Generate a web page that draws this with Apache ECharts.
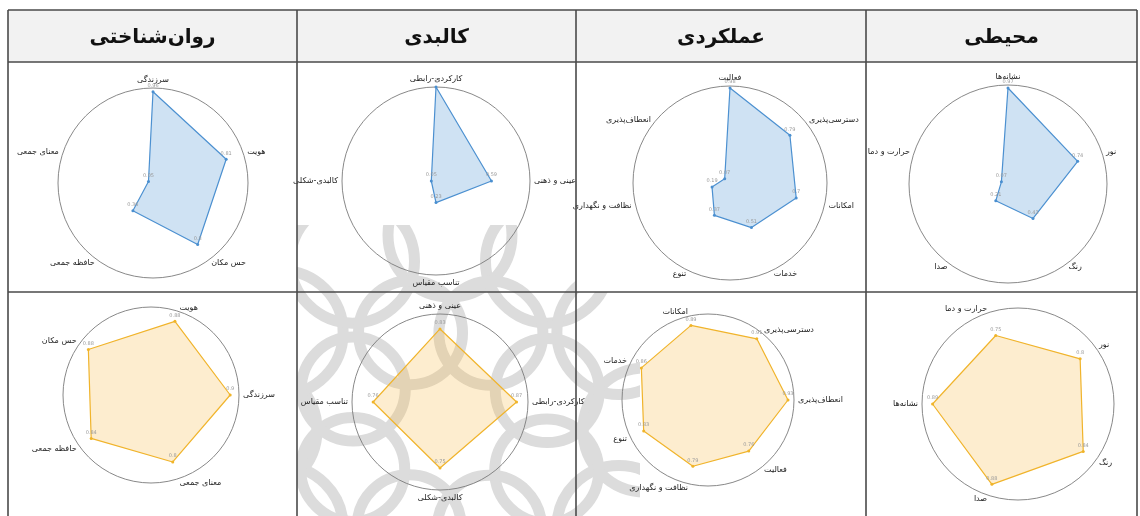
<!DOCTYPE html>
<html><head><meta charset="utf-8">
<script src="https://cdn.jsdelivr.net/npm/echarts@6/dist/echarts.min.js"></script>
<style>html,body{margin:0;padding:0;background:#fff}#c{width:1140px;height:516px}</style>
</head><body><div id="c"></div>
<script>
// Column headers (right-to-left table shown left-to-right as in the picture)
const headers = ['روان‌شناختی', 'کالبدی', 'عملکردی', 'محیطی'];

// Indicators are listed counter-clockwise, starting from the chart's start angle.
// Top row (blue)
const psyTopNames = ['سرزندگی', 'معنای جمعی', 'حافظه جمعی', 'حس مکان', 'هویت'];
const psyTopValues = [0.96, 0.05, 0.36, 0.80, 0.81];
const phyTopNames = ['کارکردی-رابطی', 'کالبدی-شکلی', 'تناسب مقیاس', 'عینی و ذهنی'];
const phyTopValues = [1.00, 0.05, 0.23, 0.59];
const funTopNames = ['فعالیت', 'انعطاف‌پذیری', 'نظافت و نگهداری', 'تنوع', 'خدمات', 'امکانات', 'دسترسی‌پذیری'];
const funTopValues = [0.98, 0.07, 0.19, 0.37, 0.51, 0.70, 0.79];
const envTopNames = ['نشانه‌ها', 'حرارت و دما', 'صدا', 'رنگ', 'نور'];
const envTopValues = [0.97, 0.07, 0.21, 0.43, 0.74];

// Bottom row (orange)
const psyBotNames = ['سرزندگی', 'هویت', 'حس مکان', 'حافظه جمعی', 'معنای جمعی'];
const psyBotValues = [0.90, 0.88, 0.88, 0.84, 0.80];
const phyBotNames = ['کارکردی-رابطی', 'عینی و ذهنی', 'تناسب مقیاس', 'کالبدی-شکلی'];
const phyBotValues = [0.87, 0.83, 0.76, 0.75];
const funBotNames = ['انعطاف‌پذیری', 'دسترسی‌پذیری', 'امکانات', 'خدمات', 'تنوع', 'نظافت و نگهداری', 'فعالیت'];
const funBotValues = [0.93, 0.91, 0.89, 0.86, 0.83, 0.79, 0.76];
const envBotNames = ['نشانه‌ها', 'صدا', 'رنگ', 'نور', 'حرارت و دما'];
const envBotValues = [0.89, 0.88, 0.84, 0.80, 0.75];

const FONT = 'DejaVu Sans';
const BLUE = {line: '#4a8fd0', fill: 'rgba(91,155,213,0.42)'};
const ORANGE = {line: '#f0b429', fill: 'rgba(246,182,64,0.36)'};

const panels = [
  {names: psyTopNames, values: psyTopValues, center: [153, 183], r: 95, start: 90, c: BLUE},
  {names: phyTopNames, values: phyTopValues, center: [436, 181], r: 94, start: 90, c: BLUE},
  {names: funTopNames, values: funTopValues, center: [730, 183], r: 97, start: 90, c: BLUE},
  {names: envTopNames, values: envTopValues, center: [1008, 184], r: 99, start: 90, c: BLUE},
  {names: psyBotNames, values: psyBotValues, center: [151, 395], r: 88, start: 0, c: ORANGE},
  {names: phyBotNames, values: phyBotValues, center: [440, 402], r: 88, start: 0, c: ORANGE},
  {names: funBotNames, values: funBotValues, center: [708, 400], r: 86, start: 0, c: ORANGE},
  {names: envBotNames, values: envBotValues, center: [1018, 404], r: 96, start: 180, c: ORANGE}
];

const radars = panels.map(p => ({
  center: p.center, radius: p.r, startAngle: p.start, shape: 'circle', splitNumber: 1,
  indicator: p.names.map(n => ({name: n, min: 0, max: 1})),
  nameGap: 4,
  axisName: {color: '#222', fontSize: 8, fontFamily: FONT},
  axisLine: {show: false}, axisTick: {show: false}, axisLabel: {show: false},
  splitArea: {show: false},
  splitLine: {lineStyle: {color: '#7a7a7a', width: 0.9}}
}));

const series = panels.map((p, i) => ({
  type: 'radar', radarIndex: i, z: 5,
  symbol: 'circle', symbolSize: 3,
  lineStyle: {color: p.c.line, width: 1.2},
  itemStyle: {color: p.c.line},
  areaStyle: {color: p.c.fill},
  label: {show: true, fontSize: 5, color: '#999', fontFamily: FONT, distance: 2},
  data: [{value: p.values}]
}));

// Table geometry
const L = 8, T = 10, R = 1137, B = 520, HB = 62, MID = 292;
const cols = [L, 297, 576, 866, R];
const graphics = [];

// faint background watermark (interlaced circles)
const wc = [450, 430];
const wmStyle = {fill: 'none', stroke: '#dcdcdc', lineWidth: 11};
function ring(n, dist, rad, phase) {
  for (let k = 0; k < n; k++) {
    const a = phase + k * 2 * Math.PI / n;
    graphics.push({type: 'circle', z: -30, silent: true,
      shape: {cx: wc[0] + dist * Math.cos(a), cy: wc[1] + dist * Math.sin(a), r: rad}, style: wmStyle});
  }
}
ring(12, 195, 62, 0);
ring(8, 105, 52, 0.4);
// white covers where the watermark is hidden
const covers = [[L, HB, 297 - L, B - HB], [576, HB, R - 576, MID - HB], [640, MID, R - 640, B - MID], [297, HB, 279, 163]];
covers.forEach(c => graphics.push({type: 'rect', z: -20, silent: true,
  shape: {x: c[0], y: c[1], width: c[2], height: c[3]}, style: {fill: '#fff'}}));

// header background
graphics.push({type: 'rect', z: -25, shape: {x: L, y: T, width: R - L, height: HB - T}, style: {fill: '#f2f2f2'}});
// header texts
headers.forEach((h, i) => graphics.push({type: 'text', z: 50,
  x: (cols[i] + cols[i + 1]) / 2, y: (T + HB) / 2 + 2,
  style: {text: h, fill: '#111', font: 'bold 20px "DejaVu Sans"', textAlign: 'center', textVerticalAlign: 'middle'}}));
// borders
const ls = {stroke: '#4a4a4a', lineWidth: 1.6};
[T, HB, MID].forEach(y => graphics.push({type: 'line', z: 60, shape: {x1: L, y1: y, x2: R, y2: y}, style: ls}));
cols.forEach(x => graphics.push({type: 'line', z: 60, shape: {x1: x, y1: T, x2: x, y2: B}, style: ls}));

const chart = echarts.init(document.getElementById('c'), null, {renderer: 'canvas'});
chart.setOption({
  backgroundColor: '#fff',
  animation: false,
  radar: radars,
  series: series,
  graphic: {elements: graphics}
});
</script></body></html>
